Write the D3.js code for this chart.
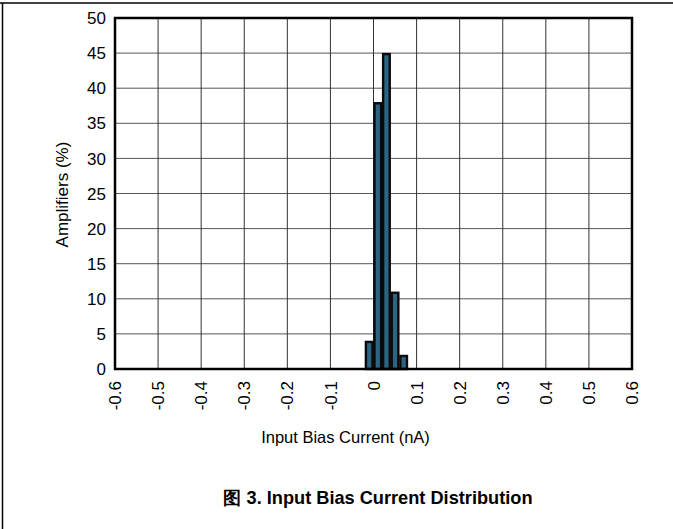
<!DOCTYPE html>
<html><head><meta charset="utf-8">
<script src="https://cdn.jsdelivr.net/npm/d3@7"></script>
<style>body{margin:0;background:#fff}svg{display:block}text{font-family:"Liberation Sans",Arial,sans-serif;fill:#000}</style>
</head><body><svg id="c" width="673" height="529"></svg>
<script>
const binStarts = [-0.02, 0.00, 0.02, 0.04, 0.06];
const binWidth = 0.02;
const percents = [4, 38, 45, 11, 2];
const xTicks = [-0.6,-0.5,-0.4,-0.3,-0.2,-0.1,0,0.1,0.2,0.3,0.4,0.5,0.6];
const xTickLabels = ["-0.6","-0.5","-0.4","-0.3","-0.2","-0.1","0","0.1","0.2","0.3","0.4","0.5","0.6"];
const yTicks = [0,5,10,15,20,25,30,35,40,45,50];
const xTitle = "Input Bias Current (nA)";
const yTitle = "Amplifiers (%)";
const chartTitle = "图 3. Input Bias Current Distribution";

const svg = d3.select("#c");
const L=115, R=632, T=18, B=369;
const x = d3.scaleLinear().domain([-0.6,0.6]).range([L,R]);
const y = d3.scaleLinear().domain([0,50]).range([B,T]);

// outer frame
svg.append("line").attr("x1",0).attr("x2",673).attr("y1",3).attr("y2",3).attr("stroke","#000").attr("stroke-width",1.5);
svg.append("line").attr("x1",2.5).attr("x2",2.5).attr("y1",3).attr("y2",529).attr("stroke","#000").attr("stroke-width",1.5);

// grid
const g = svg.append("g");
g.selectAll(".hg").data(yTicks).join("line")
  .attr("x1",L).attr("x2",R).attr("y1",d=>y(d)).attr("y2",d=>y(d))
  .attr("stroke","#555").attr("stroke-width",1);
g.selectAll(".vg").data(xTicks).join("line")
  .attr("y1",T).attr("y2",B).attr("x1",d=>x(d)).attr("x2",d=>x(d))
  .attr("stroke","#333").attr("stroke-width",1);

// bars
svg.append("g").selectAll("rect").data(binStarts).join("rect")
  .attr("x",(d)=>x(d)+1)
  .attr("width",(d)=>x(d+binWidth)-x(d)-2)
  .attr("y",(d,i)=>y(percents[i])+1)
  .attr("height",(d,i)=>y(0)-y(percents[i])-1)
  .attr("fill","#2c6482").attr("stroke","#0a0a0a").attr("stroke-width",2.4);

// plot border
svg.append("rect").attr("x",L).attr("y",T).attr("width",R-L).attr("height",B-T)
  .attr("fill","none").attr("stroke","#000").attr("stroke-width",2.5);

// y tick labels
svg.append("g").selectAll("text").data(yTicks).join("text")
  .attr("x",106).attr("y",d=>y(d)).attr("dy","0.36em")
  .attr("text-anchor","end").attr("font-size",17).text(d=>d);

// x tick labels
svg.append("g").selectAll("text").data(xTicks).join("text")
  .attr("transform",d=>`translate(${x(d)},381) rotate(-90)`)
  .attr("dy","0.36em").attr("text-anchor","end").attr("font-size",17)
  .text((d,i)=>xTickLabels[i]);

svg.append("text").attr("x",x(0)-28).attr("y",443).attr("text-anchor","middle").attr("font-size",16.5).text(xTitle);
svg.append("text").attr("transform",`translate(68,${(T+B)/2+1}) rotate(-90)`).attr("text-anchor","middle").attr("font-size",17).text(yTitle);
svg.append("text").attr("x",378).attr("y",504).attr("text-anchor","middle").attr("font-size",18.2).attr("font-weight","bold").text(chartTitle);
</script></body></html>
